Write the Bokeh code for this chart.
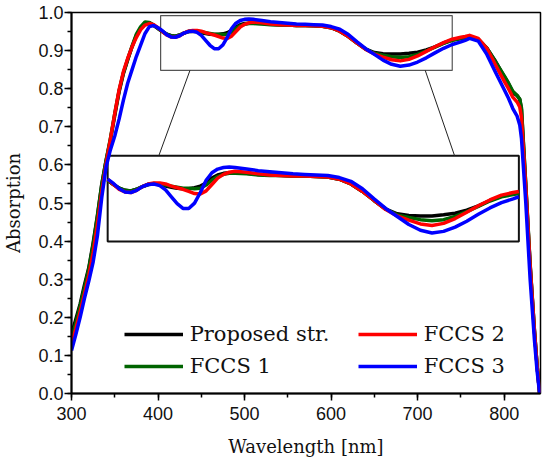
from bokeh.plotting import figure
from bokeh.models import (Range1d, SingleIntervalTicker, NumeralTickFormatter,
                          BoxAnnotation, Legend, LegendItem, ColumnDataSource)
from bokeh.embed import file_html
from bokeh.resources import INLINE

# ---------------- data ----------------
wavelength = [300, 305, 310, 315, 320, 325, 330, 335, 340, 345, 350, 355, 360, 365, 370, 375, 380, 385, 390, 395, 400,
              405, 410, 415, 420, 425, 430, 435, 440, 445, 450, 455, 460, 465, 470, 475, 480, 485, 490, 495, 500, 505, 510,
              520, 530, 540, 550, 560, 570, 580, 590, 600, 610, 620, 630, 640, 650, 660, 670, 680, 690, 700, 710, 720, 730, 740, 750,
              755, 760, 770, 780, 790, 800,
              805, 810, 815, 818, 820, 825, 830, 835, 838, 841]

proposed = [0.155, 0.195, 0.235, 0.285, 0.33, 0.395, 0.468, 0.55, 0.612, 0.666, 0.73, 0.792, 0.84, 0.876, 0.91, 0.94, 0.96, 0.973, 0.973, 0.966, 0.958,
            0.95, 0.943, 0.939, 0.938, 0.941, 0.946, 0.95, 0.951, 0.95, 0.947, 0.945, 0.943, 0.942, 0.942, 0.944, 0.947, 0.953, 0.962, 0.968, 0.971, 0.972, 0.972,
            0.971, 0.969, 0.968, 0.967, 0.966, 0.966, 0.965, 0.964, 0.96, 0.951, 0.937, 0.92, 0.904, 0.895, 0.892, 0.891, 0.891, 0.893, 0.896, 0.902, 0.91, 0.92, 0.928, 0.933,
            0.935, 0.937, 0.93, 0.906, 0.872, 0.832,
            0.813, 0.79, 0.782, 0.772, 0.745, 0.545, 0.338, 0.165, 0.075, 0.0]

fccs1 = [0.145, 0.185, 0.23, 0.278, 0.327, 0.39, 0.465, 0.548, 0.612, 0.67, 0.735, 0.795, 0.842, 0.878, 0.912, 0.943, 0.963, 0.975, 0.974, 0.967, 0.958,
         0.95, 0.943, 0.939, 0.938, 0.941, 0.946, 0.95, 0.952, 0.951, 0.949, 0.947, 0.945, 0.943, 0.943, 0.942, 0.943, 0.949, 0.958, 0.965, 0.969, 0.971, 0.971,
         0.97, 0.968, 0.967, 0.967, 0.966, 0.966, 0.965, 0.964, 0.96, 0.951, 0.937, 0.92, 0.904, 0.893, 0.888, 0.884, 0.882, 0.884, 0.89, 0.899, 0.909, 0.919, 0.927, 0.931,
         0.933, 0.936, 0.93, 0.907, 0.87, 0.834,
         0.815, 0.793, 0.782, 0.773, 0.75, 0.548, 0.34, 0.166, 0.076, 0.0]

fccs2 = [0.13, 0.17, 0.215, 0.262, 0.31, 0.37, 0.445, 0.53, 0.603, 0.668, 0.735, 0.797, 0.845, 0.88, 0.91, 0.935, 0.955, 0.967, 0.971, 0.968, 0.96,
         0.95, 0.941, 0.936, 0.935, 0.939, 0.946, 0.951, 0.953, 0.953, 0.951, 0.947, 0.944, 0.941, 0.937, 0.933, 0.932, 0.938, 0.95, 0.962, 0.969, 0.973, 0.975,
         0.973, 0.97, 0.968, 0.967, 0.966, 0.966, 0.965, 0.964, 0.96, 0.951, 0.937, 0.92, 0.903, 0.891, 0.883, 0.876, 0.873, 0.877, 0.886, 0.898, 0.91, 0.921, 0.93, 0.935,
         0.937, 0.94, 0.932, 0.906, 0.862, 0.82,
         0.8, 0.778, 0.765, 0.752, 0.725, 0.54, 0.335, 0.163, 0.074, 0.0]

fccs3 = [0.113, 0.155, 0.2, 0.25, 0.295, 0.345, 0.415, 0.515, 0.595, 0.64, 0.676, 0.72, 0.77, 0.815, 0.85, 0.885, 0.915, 0.945, 0.963, 0.966, 0.96,
         0.952, 0.942, 0.936, 0.935, 0.939, 0.946, 0.95, 0.951, 0.948, 0.94, 0.927, 0.914, 0.905, 0.905, 0.915, 0.935, 0.958, 0.972, 0.979, 0.982, 0.983, 0.982,
         0.979, 0.976, 0.974, 0.972, 0.97, 0.969, 0.968, 0.967, 0.963, 0.956, 0.942, 0.923, 0.905, 0.89, 0.875, 0.864, 0.859, 0.862, 0.87, 0.881, 0.894, 0.906, 0.916, 0.923,
         0.927, 0.932, 0.925, 0.89, 0.843, 0.798,
         0.775, 0.748, 0.728, 0.705, 0.67, 0.5, 0.3, 0.14, 0.06, 0.0]

series_names = ["Proposed str.", "FCCS 1", "FCCS 2", "FCCS 3"]
series_values = [proposed, fccs1, fccs2, fccs3]
series_colors = ["#000000", "#006400", "#ff0000", "#0000ff"]

# ---------------- layout constants ----------------
X_RANGE = (300, 842)
Y_RANGE = (0, 1)
ZOOM_BOX = (403, 740, 0.848, 0.992)        # indicator box on the curves (x0, x1, y0, y1)
INSET_BOX = (341.8, 817, 0.399, 0.624)     # where the magnified view sits
INSET_VIEW = (400, 755, 0.843, 1.004)      # data window shown in the inset
CONNECT = [((436.9, 0.848), (400.9, 0.624)), ((708.8, 0.848), (742.7, 0.624))]

p = figure(width=542, height=461, x_range=Range1d(*X_RANGE), y_range=Range1d(*Y_RANGE),
           output_backend="svg", toolbar_location=None,
           min_border_left=65, min_border_right=2, min_border_top=12, min_border_bottom=68)
p.background_fill_color = "white"
p.border_fill_color = "white"
p.xgrid.visible = False
p.ygrid.visible = False
p.outline_line_color = "black"
p.outline_line_width = 1.5
p.outline_line_alpha = 1.0

p.xaxis.ticker = SingleIntervalTicker(interval=100, num_minor_ticks=2)
p.yaxis.ticker = SingleIntervalTicker(interval=0.1, num_minor_ticks=2)
p.yaxis.formatter = NumeralTickFormatter(format="0.0")
p.xaxis.axis_label = "Wavelength [nm]"
p.yaxis.axis_label = "Absorption"
for ax in (p.xaxis[0], p.yaxis[0]):
    ax.axis_line_width = 2
    ax.axis_line_color = "black"
    ax.major_tick_line_width = 1.5
    ax.major_tick_line_color = "black"
    ax.minor_tick_line_width = 1.5
    ax.minor_tick_line_color = "black"
    ax.major_tick_out = 7
    ax.major_tick_in = 0
    ax.minor_tick_out = 4
    ax.minor_tick_in = 0
    ax.major_label_text_font = "Liberation Sans"
    ax.major_label_text_font_size = "18px"
    ax.major_label_text_color = "#111111"
    ax.axis_label_text_font = "DejaVu Serif"
    ax.axis_label_text_font_size = "18px"
    ax.axis_label_text_font_style = "normal"
    ax.axis_label_text_color = "#111111"
p.xaxis.major_label_standoff = 6
p.yaxis.major_label_standoff = 1
p.xaxis.axis_label_standoff = 13
p.yaxis.axis_label_standoff = 11

# indicator box and inset frame
p.add_layout(BoxAnnotation(left=ZOOM_BOX[0], right=ZOOM_BOX[1], bottom=ZOOM_BOX[2], top=ZOOM_BOX[3],
                           fill_alpha=0, line_color="#555555", line_alpha=1, line_width=1.2, level="underlay"))
p.add_layout(BoxAnnotation(left=INSET_BOX[0], right=INSET_BOX[1], bottom=INSET_BOX[2], top=INSET_BOX[3],
                           fill_color="white", fill_alpha=1, line_color="#111111", line_alpha=1,
                           line_width=2, level="underlay"))
p.segment(x0=[c[0][0] for c in CONNECT], y0=[c[0][1] for c in CONNECT],
          x1=[c[1][0] for c in CONNECT], y1=[c[1][1] for c in CONNECT],
          line_color="#222222", line_width=1)

# inset ranges: map the inset view window onto the inset box
sx = (INSET_VIEW[1] - INSET_VIEW[0]) / (INSET_BOX[1] - INSET_BOX[0])
sy = (INSET_VIEW[3] - INSET_VIEW[2]) / (INSET_BOX[3] - INSET_BOX[2])
p.extra_x_ranges = {"inset": Range1d(INSET_VIEW[0] - (INSET_BOX[0] - X_RANGE[0]) * sx,
                                     INSET_VIEW[0] + (X_RANGE[1] - INSET_BOX[0]) * sx)}
p.extra_y_ranges = {"inset": Range1d(INSET_VIEW[2] - (INSET_BOX[2] - Y_RANGE[0]) * sy,
                                     INSET_VIEW[2] + (Y_RANGE[1] - INSET_BOX[2]) * sy)}

renderers = []
for name, vals, col in zip(series_names, series_values, series_colors):
    src = ColumnDataSource(dict(x=wavelength, y=vals))
    r = p.line("x", "y", source=src, line_color=col, line_width=3.5, line_join="round")
    renderers.append(r)

for name, vals, col in zip(series_names, series_values, series_colors):
    xs = [w for w in wavelength if INSET_VIEW[0] <= w <= INSET_VIEW[1]]
    ys = [v for w, v in zip(wavelength, vals) if INSET_VIEW[0] <= w <= INSET_VIEW[1]]
    src = ColumnDataSource(dict(x=xs, y=ys))
    p.line("x", "y", source=src, line_color=col, line_width=3.5, line_join="round",
           x_range_name="inset", y_range_name="inset")

def make_legend(items, loc):
    leg = Legend(items=items, location=loc, orientation="vertical",
                 border_line_color=None, background_fill_alpha=0, padding=0, margin=0, spacing=0,
                 glyph_width=59, glyph_height=32, label_height=32, label_standoff=7,
                 label_text_font="DejaVu Serif", label_text_font_size="21px", label_text_color="#111111")
    return leg

p.add_layout(make_legend([LegendItem(label=series_names[0], renderers=[renderers[0]]),
                          LegendItem(label=series_names[1], renderers=[renderers[1]])], (52.7, 10.7)))
p.add_layout(make_legend([LegendItem(label=series_names[2], renderers=[renderers[2]]),
                          LegendItem(label=series_names[3], renderers=[renderers[3]])], (286.7, 10.7)))

open("out.html", "w").write(file_html(p, INLINE))
